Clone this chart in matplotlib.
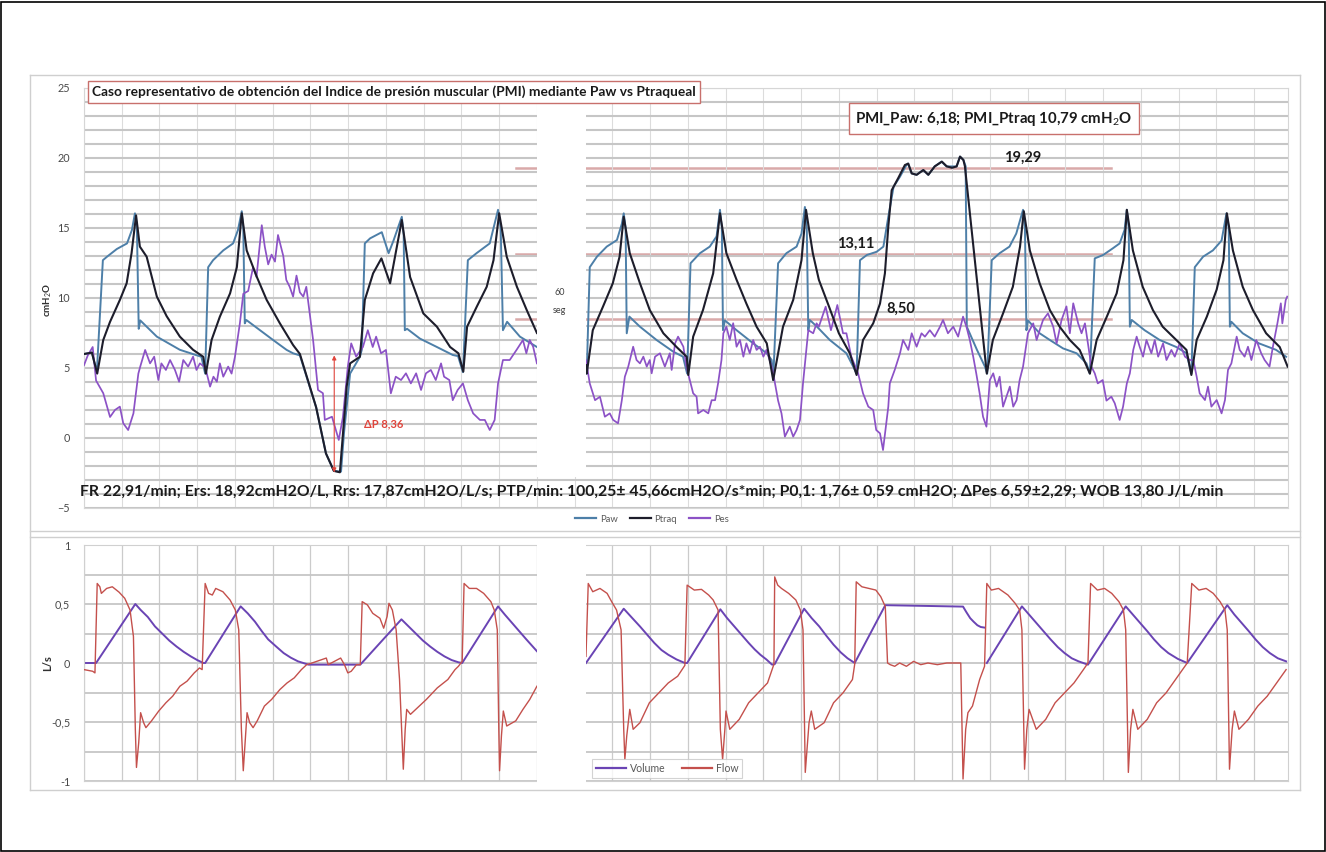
import numpy as np
import matplotlib.pyplot as plt
from matplotlib.patches import Rectangle
from matplotlib.lines import Line2D

plt.rcParams['font.family'] = ['Lato', 'DejaVu Sans']
plt.rcParams['mathtext.fontset'] = 'custom'
plt.rcParams['mathtext.rm'] = 'Lato'
plt.rcParams['mathtext.it'] = 'Lato:italic'
plt.rcParams['mathtext.bf'] = 'Lato:bold'

# ---------------------------------------------------------------------------
# Signals (time in s, pressures in cmH2O, flow in L/s, volume in L)
# Each recording is split in two segments separated by a 60 s gap.
# ---------------------------------------------------------------------------
paw_left = [
    (0.00, 6.0), (0.21, 6.1), (0.34, 4.7), (0.50, 12.7), (0.61, 12.95), (0.87, 13.5),
    (1.14, 13.9), (1.27, 14.86), (1.35, 16.05), (1.40, 15.2), (1.45, 7.8), (1.49, 8.4),
    (1.93, 7.24), (2.54, 6.3), (3.11, 5.8), (3.21, 4.6),
    (3.29, 12.2), (3.42, 12.7), (3.69, 13.4), (3.95, 13.9), (4.08, 14.86), (4.18, 16.2),
    (4.22, 15.0), (4.26, 8.19), (4.30, 8.43), (4.66, 7.7), (5.01, 7.0), (5.37, 6.29),
    (5.54, 6.05), (5.72, 5.9),
    (6.15, 2.2), (6.41, -1.1), (6.62, -2.35), (6.81, -2.4), (6.89, 0.4), (7.05, 4.6),
    (7.31, 5.8), (7.36, 6.3),
    (7.44, 13.9), (7.58, 14.26), (7.89, 14.7), (8.07, 13.2), (8.20, 14.1), (8.42, 15.8),
    (8.47, 14.5), (8.50, 7.7), (8.56, 7.8), (8.90, 7.1), (9.35, 6.5), (9.77, 5.93),
    (9.91, 5.85), (10.04, 4.7),
    (10.17, 12.7), (10.40, 13.2), (10.75, 13.9), (10.97, 16.3), (11.04, 15.0), (11.10, 7.7),
    (11.21, 8.3), (11.55, 7.24), (12.00, 6.5),
]
paw_right = [
    (13.30, 5.5), (13.32, 4.6), (13.40, 12.2), (13.59, 12.95), (13.85, 13.67), (14.12, 14.14),
    (14.25, 15.3), (14.30, 16.05), (14.35, 15.0), (14.38, 7.48), (14.45, 8.67), (14.73, 7.95),
    (15.17, 7.0), (15.61, 6.17), (15.87, 5.81), (15.98, 4.6),
    (16.07, 12.48), (16.32, 13.2), (16.58, 13.67), (16.76, 14.4), (16.85, 16.3), (16.90, 15.0),
    (16.93, 7.7), (16.98, 8.4), (17.29, 7.7), (17.73, 6.76), (18.09, 6.05), (18.22, 5.57),
    (18.26, 4.14),
    (18.39, 12.48), (18.61, 13.2), (18.88, 13.67), (19.01, 14.6), (19.10, 16.5), (19.15, 15.0),
    (19.19, 7.7), (19.23, 8.43), (19.42, 7.95), (19.76, 7.0), (20.20, 6.05), (20.38, 5.1),
    (20.47, 4.6),
    (20.56, 12.7), (20.74, 13.07), (21.00, 13.3), (21.18, 13.67), (21.31, 15.8), (21.45, 17.95),
    (21.62, 18.67), (21.79, 19.5), (21.83, 19.6), (21.93, 18.9), (22.06, 18.8), (22.23, 19.14),
    (22.37, 18.8), (22.54, 19.4), (22.72, 19.74), (22.85, 19.4), (23.12, 19.4), (23.21, 20.1),
    (23.30, 19.86), (23.36, 19.4), (23.39, 7.95), (23.66, 6.29), (23.87, 5.1), (23.93, 4.6),
    (24.05, 12.7), (24.26, 13.2), (24.52, 13.67), (24.70, 14.6), (24.88, 16.3), (24.93, 15.0),
    (24.97, 7.7), (25.01, 8.4), (25.32, 7.48), (25.59, 7.0), (25.94, 6.4), (26.30, 6.05),
    (26.56, 5.33), (26.65, 4.6),
    (26.78, 12.83), (27.00, 13.07), (27.26, 13.55), (27.44, 13.9), (27.57, 14.86), (27.63, 16.3),
    (27.68, 15.0), (27.71, 7.95), (27.76, 8.43), (28.10, 7.7), (28.50, 7.0), (28.94, 6.5),
    (29.21, 6.05), (29.34, 4.6),
    (29.43, 12.2), (29.65, 12.95), (29.91, 13.4), (30.14, 14.1), (30.27, 16.05), (30.33, 15.0),
    (30.36, 7.95), (30.40, 8.3), (30.70, 7.48), (31.13, 6.76), (31.58, 6.3), (31.85, 5.8),
]

ptraq_left = [
    (0.00, 6.0), (0.21, 6.1), (0.35, 4.6), (0.51, 7.0), (0.69, 8.3), (0.95, 9.86),
    (1.13, 11.05), (1.26, 13.2), (1.38, 15.9), (1.48, 13.67), (1.66, 12.95), (1.93, 10.1),
    (2.19, 8.7), (2.54, 7.24), (2.89, 6.3), (3.16, 5.8), (3.23, 4.6),
    (3.38, 7.0), (3.60, 8.67), (3.87, 10.33), (4.05, 12.2), (4.18, 16.05), (4.31, 13.4),
    (4.58, 11.5), (4.84, 9.86), (5.19, 8.19), (5.54, 6.64), (5.72, 6.0),
    (6.15, 2.2), (6.41, -1.1), (6.62, -2.35), (6.78, -2.45), (6.96, 3.67), (7.05, 5.33),
    (7.31, 5.8),
    (7.44, 9.86), (7.66, 11.76), (7.88, 12.83), (8.11, 11.05), (8.24, 12.95), (8.42, 15.57),
    (8.64, 11.5), (8.99, 8.9), (9.35, 7.95), (9.70, 6.5), (9.92, 6.05), (10.05, 4.74),
    (10.15, 7.95), (10.41, 9.4), (10.67, 10.8), (10.85, 12.7), (11.00, 16.05), (11.20, 12.95),
    (11.47, 10.8), (11.73, 9.14), (12.00, 7.5),
]
ptraq_right = [
    (13.30, 5.2), (13.32, 4.6), (13.48, 7.7), (13.75, 9.38), (14.01, 11.05), (14.19, 12.95),
    (14.30, 15.8), (14.46, 13.2), (14.73, 11.05), (14.99, 9.14), (15.35, 7.48), (15.70, 6.5),
    (15.97, 5.8), (16.01, 4.5),
    (16.14, 7.24), (16.40, 9.14), (16.67, 11.76), (16.85, 16.05), (17.02, 13.2), (17.29, 11.3),
    (17.55, 9.6), (17.82, 7.95), (18.09, 6.76), (18.26, 4.14),
    (18.52, 7.95), (18.79, 9.86), (19.01, 12.7), (19.13, 16.3), (19.31, 13.2), (19.47, 11.3),
    (19.74, 9.38), (20.00, 7.48), (20.29, 6.05), (20.47, 4.5),
    (20.64, 7.0), (20.91, 8.19), (21.09, 9.6), (21.22, 11.76), (21.31, 15.1), (21.40, 17.7),
    (21.57, 18.55), (21.75, 19.5), (21.84, 19.6), (21.93, 18.9), (22.06, 18.8), (22.24, 19.14),
    (22.37, 18.8), (22.54, 19.4), (22.73, 19.74), (22.86, 19.4), (23.00, 19.3), (23.12, 19.4),
    (23.21, 20.1), (23.30, 19.86), (23.34, 19.4), (23.92, 4.6),
    (24.08, 7.0), (24.35, 8.9), (24.61, 10.8), (24.80, 13.67), (24.90, 16.2), (25.06, 13.4),
    (25.32, 11.05), (25.59, 9.14), (25.85, 7.95), (26.12, 7.0), (26.38, 6.29), (26.65, 4.6),
    (26.83, 7.0), (27.10, 8.67), (27.36, 10.33), (27.54, 12.7), (27.63, 16.3), (27.79, 13.4),
    (28.05, 10.8), (28.32, 9.14), (28.58, 7.95), (28.94, 7.0), (29.21, 6.29), (29.34, 4.5),
    (29.48, 7.0), (29.75, 8.67), (30.01, 10.6), (30.19, 12.7), (30.28, 16.05), (30.44, 13.4),
    (30.70, 10.8), (30.97, 9.14), (31.32, 7.48), (31.68, 6.5), (31.89, 5.1),
]

pes_left = [
    (0.00, 5.2), (0.10, 5.9), (0.23, 6.5), (0.32, 4.1), (0.51, 3.2), (0.69, 1.5), (0.82, 2.0),
    (0.95, 2.24), (1.04, 1.05), (1.17, 0.57), (1.31, 1.76), (1.44, 4.6), (1.49, 5.1),
    (1.62, 6.29), (1.75, 5.33), (1.86, 5.81), (1.97, 4.14), (2.05, 5.33), (2.17, 4.86),
    (2.28, 5.57), (2.41, 4.86), (2.52, 4.02), (2.63, 5.57), (2.76, 5.1), (2.89, 5.81),
    (2.98, 4.86), (3.07, 5.33), (3.18, 5.1), (3.23, 4.86), (3.34, 3.67), (3.43, 4.38),
    (3.52, 4.02), (3.60, 5.33), (3.69, 4.38), (3.82, 5.1), (3.91, 4.6), (4.00, 5.81),
    (4.13, 8.19), (4.22, 10.3), (4.35, 10.5), (4.48, 12.2), (4.57, 11.5), (4.71, 15.2),
    (4.79, 13.67), (4.88, 12.4), (4.97, 13.1), (5.06, 12.6), (5.14, 14.5), (5.28, 13.0),
    (5.36, 11.29), (5.45, 10.8), (5.54, 10.1), (5.63, 11.6), (5.72, 10.4), (5.81, 10.1),
    (5.89, 10.8), (5.99, 8.67), (6.07, 7.0), (6.20, 3.43), (6.33, 3.2), (6.38, 1.29),
    (6.57, 1.52), (6.75, -0.14), (6.86, 1.5), (6.99, 5.1), (7.08, 6.76), (7.21, 5.81),
    (7.39, 6.5), (7.52, 7.7), (7.65, 6.5), (7.74, 7.24), (7.87, 6.05), (8.00, 6.29),
    (8.13, 3.19), (8.26, 4.38), (8.40, 4.14), (8.53, 4.62), (8.66, 3.9), (8.80, 4.62),
    (8.93, 3.43), (9.06, 4.62), (9.19, 4.86), (9.32, 4.14), (9.46, 5.33), (9.54, 4.38),
    (9.68, 4.14), (9.77, 2.7), (9.90, 3.43), (10.04, 3.9), (10.17, 2.7), (10.31, 1.76),
    (10.49, 1.29), (10.62, 1.29), (10.75, 0.57), (10.88, 1.29), (10.97, 3.9), (11.10, 5.57),
    (11.28, 5.57), (11.46, 6.29), (11.63, 7.0), (11.72, 6.05), (11.81, 7.0), (11.90, 6.52),
    (12.00, 5.33),
]
pes_right = [
    (13.30, 5.57), (13.40, 3.9), (13.54, 2.7), (13.67, 2.95), (13.80, 1.52), (13.93, 1.76),
    (14.02, 1.29), (14.15, 1.05), (14.25, 2.7), (14.33, 4.38), (14.42, 5.1), (14.55, 6.52),
    (14.64, 5.57), (14.73, 5.33), (14.82, 5.81), (14.91, 5.1), (14.99, 5.57), (15.04, 4.62),
    (15.13, 5.81), (15.26, 6.05), (15.39, 5.1), (15.52, 6.05), (15.57, 4.86), (15.66, 6.76),
    (15.74, 7.24), (15.88, 6.52), (15.96, 5.1),
    (16.05, 4.14), (16.14, 3.19), (16.23, 2.95), (16.27, 1.76), (16.41, 2.0), (16.54, 1.76),
    (16.63, 2.7), (16.72, 2.7), (16.80, 3.9), (16.89, 5.57), (16.94, 7.48), (17.02, 7.95),
    (17.11, 7.0), (17.20, 8.2), (17.29, 6.52), (17.38, 7.0), (17.47, 5.81), (17.55, 6.76),
    (17.64, 6.05), (17.73, 7.0), (17.82, 6.29), (17.91, 6.52), (18.00, 5.81), (18.08, 6.29),
    (18.22, 5.1),
    (18.26, 4.62), (18.39, 2.67), (18.48, 1.76), (18.57, 0.1), (18.70, 0.81), (18.79, 0.1),
    (18.88, 0.57), (18.97, 1.29), (19.05, 3.9), (19.19, 7.7), (19.32, 7.48), (19.41, 8.19),
    (19.47, 7.95), (19.65, 9.38), (19.79, 7.7), (19.96, 9.5), (20.11, 7.48), (20.20, 7.48),
    (20.33, 5.81), (20.51, 4.62), (20.64, 3.19), (20.78, 2.24), (20.91, 2.0), (20.99, 0.57),
    (21.09, 0.33), (21.17, -0.86), (21.31, 2.24), (21.35, 3.9), (21.48, 4.86), (21.62, 6.05),
    (21.70, 7.0), (21.84, 6.29), (21.93, 7.48), (22.06, 6.52), (22.19, 7.48), (22.28, 7.24),
    (22.41, 7.7), (22.54, 7.24), (22.68, 7.95), (22.76, 8.43), (22.89, 7.48), (23.03, 7.95),
    (23.16, 7.24), (23.29, 8.67), (23.38, 7.95), (23.47, 7.0), (23.56, 5.81), (23.64, 4.62),
    (23.73, 3.19), (23.82, 1.52), (23.91, 0.81), (24.00, 4.14), (24.09, 4.62), (24.18, 3.67),
    (24.26, 4.38), (24.35, 2.24), (24.44, 2.95), (24.53, 3.67), (24.62, 2.24), (24.71, 2.71),
    (24.79, 4.14), (24.88, 5.1), (25.01, 7.48), (25.15, 8.19), (25.24, 7.0), (25.32, 7.7),
    (25.41, 8.43), (25.54, 8.9), (25.68, 7.95), (25.77, 6.76), (25.90, 8.43), (26.03, 9.4),
    (26.12, 7.48), (26.21, 9.62), (26.34, 8.19), (26.43, 7.48), (26.52, 8.19), (26.60, 6.76),
    (26.69, 5.1), (26.78, 4.62), (26.86, 3.9), (26.99, 4.14), (27.09, 2.67), (27.22, 2.95),
    (27.31, 2.48), (27.44, 1.29), (27.53, 2.24), (27.63, 3.9), (27.71, 4.62), (27.80, 6.29),
    (27.89, 7.24), (27.97, 6.52), (28.06, 5.81), (28.15, 7.0), (28.28, 6.05), (28.37, 7.0),
    (28.46, 5.81), (28.59, 6.76), (28.68, 5.57), (28.81, 6.29), (28.90, 5.81), (29.03, 6.76),
    (29.17, 5.81), (29.30, 5.57),
    (29.39, 5.57), (29.48, 4.38), (29.56, 3.19), (29.70, 2.71), (29.78, 3.67), (29.87, 2.24),
    (30.01, 2.71), (30.14, 1.76), (30.23, 2.71), (30.31, 4.86), (30.40, 5.33), (30.54, 7.24),
    (30.62, 6.29), (30.75, 5.81), (30.84, 6.52), (30.93, 5.57), (31.06, 7.0), (31.19, 6.05),
    (31.28, 5.57), (31.41, 5.1), (31.50, 6.52), (31.62, 8.2), (31.71, 9.62), (31.75, 8.19),
    (31.84, 9.86), (31.88, 10.1),
]

flow_left = [
    (0.00, -0.056), (0.23, -0.07), (0.29, -0.084), (0.35, 0.674), (0.42, 0.646), (0.46, 0.59),
    (0.60, 0.632), (0.75, 0.646), (0.93, 0.60), (1.08, 0.548), (1.22, 0.449), (1.31, 0.225),
    (1.36, -0.562), (1.39, -0.885), (1.45, -0.674), (1.50, -0.421), (1.58, -0.506),
    (1.64, -0.548), (1.79, -0.49), (1.98, -0.407), (2.17, -0.337), (2.35, -0.281),
    (2.54, -0.197), (2.73, -0.154), (2.92, -0.084), (3.06, -0.042), (3.13, -0.056),
    (3.21, 0.674), (3.30, 0.59), (3.40, 0.576), (3.49, 0.632), (3.68, 0.604), (3.87, 0.534),
    (4.01, 0.449), (4.10, 0.281), (4.17, -0.562), (4.22, -0.913), (4.28, -0.618),
    (4.32, -0.421), (4.39, -0.506), (4.48, -0.548), (4.59, -0.49), (4.78, -0.365),
    (4.97, -0.309), (5.19, -0.225), (5.38, -0.169), (5.57, -0.126), (5.76, -0.056),
    (5.90, -0.014), (6.04, 0.0), (6.42, 0.042), (6.47, -0.014), (6.80, 0.042), (6.90, -0.014),
    (6.99, -0.084), (7.08, -0.07), (7.22, -0.014), (7.32, -0.014),
    (7.37, 0.52), (7.51, 0.492), (7.65, 0.421), (7.84, 0.379), (7.94, 0.295), (8.03, 0.393),
    (8.08, 0.506), (8.17, 0.449), (8.27, 0.281), (8.36, -0.14), (8.46, -0.90), (8.51, -0.562),
    (8.55, -0.393), (8.65, -0.435), (8.79, -0.393), (9.07, -0.309), (9.36, -0.211),
    (9.64, -0.14), (9.83, -0.056), (9.92, -0.028), (10.02, 0.014),
    (10.07, 0.674), (10.21, 0.632), (10.40, 0.632), (10.59, 0.59), (10.78, 0.52),
    (10.87, 0.449), (10.95, 0.281), (10.99, -0.562), (11.01, -0.913), (11.06, -0.618),
    (11.11, -0.407), (11.20, -0.534), (11.44, -0.49), (11.63, -0.393), (11.81, -0.309),
    (12.00, -0.197),
]
flow_right = [
    (13.30, 0.056), (13.36, 0.674), (13.48, 0.604), (13.67, 0.632), (13.86, 0.59), (13.98, 0.52),
    (14.11, 0.449), (14.23, 0.281), (14.30, -0.562), (14.33, -0.817), (14.38, -0.618),
    (14.46, -0.393), (14.55, -0.562), (14.73, -0.506), (14.98, -0.337), (15.23, -0.253),
    (15.48, -0.169), (15.73, -0.112), (15.92, -0.02),
    (15.98, 0.66), (16.17, 0.618), (16.36, 0.624), (16.55, 0.576), (16.67, 0.534),
    (16.80, 0.449), (16.86, -0.562), (16.92, -0.817), (16.98, -0.562), (17.01, -0.407),
    (17.11, -0.562), (17.36, -0.478), (17.61, -0.337), (17.86, -0.253), (18.11, -0.169),
    (18.23, -0.056), (18.28, -0.01),
    (18.30, 0.73), (18.38, 0.66), (18.48, 0.632), (18.67, 0.59), (18.86, 0.534), (18.98, 0.449),
    (19.05, 0.281), (19.11, -0.927), (19.21, -0.506), (19.27, -0.407), (19.36, -0.562),
    (19.61, -0.506), (19.86, -0.337), (20.11, -0.253), (20.36, -0.14), (20.42, -0.01),
    (20.46, 0.688), (20.61, 0.646), (20.79, 0.632), (20.98, 0.618), (21.11, 0.562),
    (21.23, 0.478), (21.29, 0.0), (21.36, -0.014), (21.48, -0.028), (21.61, 0.0),
    (21.79, -0.028), (21.98, 0.014), (22.17, -0.014), (22.36, 0.0), (22.61, -0.014),
    (22.86, 0.0), (23.23, 0.0), (23.29, -0.983), (23.36, -0.562), (23.42, -0.421),
    (23.54, -0.365), (23.61, -0.281), (23.73, -0.14), (23.86, -0.028),
    (23.92, 0.674), (24.04, 0.618), (24.23, 0.632), (24.48, 0.576), (24.67, 0.506),
    (24.79, 0.449), (24.85, 0.281), (24.92, -0.90), (24.98, -0.562), (25.04, -0.393),
    (25.23, -0.562), (25.48, -0.478), (25.73, -0.337), (25.98, -0.253), (26.23, -0.169),
    (26.48, -0.056), (26.60, 0.0),
    (26.67, 0.674), (26.85, 0.618), (27.04, 0.632), (27.23, 0.59), (27.42, 0.52),
    (27.54, 0.449), (27.60, 0.281), (27.67, -0.927), (27.73, -0.562), (27.79, -0.393),
    (27.92, -0.562), (28.17, -0.478), (28.42, -0.337), (28.67, -0.253), (28.92, -0.14),
    (29.23, 0.0),
    (29.35, 0.674), (29.54, 0.618), (29.73, 0.632), (29.92, 0.59), (30.10, 0.52),
    (30.23, 0.449), (30.29, 0.281), (30.35, -0.90), (30.42, -0.562), (30.48, -0.407),
    (30.60, -0.562), (30.85, -0.478), (31.10, -0.365), (31.35, -0.281), (31.60, -0.169),
    (31.85, -0.056),
]

volume_left = [
    (0.00, 0.0), (0.32, 0.0), (1.36, 0.50), (1.50, 0.45), (1.69, 0.39), (1.88, 0.31),
    (2.07, 0.25), (2.26, 0.19), (2.45, 0.14), (2.64, 0.095), (2.83, 0.056), (3.00, 0.025),
    (3.16, 0.0), (3.21, 0.0),
    (4.15, 0.48), (4.34, 0.42), (4.53, 0.35), (4.71, 0.27), (4.88, 0.20), (5.09, 0.14),
    (5.29, 0.084), (5.48, 0.045), (5.67, 0.014), (5.95, -0.014), (7.32, -0.014),
    (8.41, 0.37), (8.60, 0.31), (8.79, 0.25), (8.98, 0.19), (9.17, 0.14), (9.36, 0.095),
    (9.55, 0.056), (9.74, 0.025), (9.92, 0.006), (10.02, 0.0),
    (10.97, 0.48), (11.15, 0.41), (11.34, 0.34), (11.53, 0.27), (11.72, 0.20), (11.86, 0.15),
    (12.00, 0.10),
]
volume_right = [
    (13.30, 0.0), (14.30, 0.46), (14.50, 0.39), (14.73, 0.31), (14.92, 0.24), (15.11, 0.17),
    (15.30, 0.11), (15.48, 0.07), (15.70, 0.03), (15.92, 0.0), (15.98, 0.0),
    (16.86, 0.455), (17.04, 0.38), (17.23, 0.31), (17.42, 0.24), (17.61, 0.17), (17.77, 0.115),
    (17.92, 0.07), (18.08, 0.03), (18.23, -0.014), (18.30, -0.01),
    (19.08, 0.46), (19.28, 0.38), (19.48, 0.31), (19.67, 0.23), (19.86, 0.155), (20.05, 0.09),
    (20.23, 0.04), (20.42, 0.0),
    (21.23, 0.49), (23.29, 0.478), (23.38, 0.43), (23.48, 0.38), (23.57, 0.35), (23.67, 0.32),
    (23.76, 0.305), (23.86, 0.30), None,
    (23.92, 0.0), (24.85, 0.48), (25.04, 0.41), (25.23, 0.34), (25.42, 0.27), (25.61, 0.20),
    (25.80, 0.135), (25.98, 0.084), (26.17, 0.04), (26.35, 0.014), (26.60, -0.014),
    (27.60, 0.48), (27.79, 0.41), (27.98, 0.34), (28.17, 0.27), (28.35, 0.20), (28.54, 0.135),
    (28.73, 0.084), (28.98, 0.035), (29.23, 0.0),
    (30.29, 0.49), (30.48, 0.41), (30.67, 0.34), (30.86, 0.27), (31.04, 0.20), (31.23, 0.135),
    (31.42, 0.084), (31.63, 0.04), (31.85, 0.014),
]

# Reference pressure levels and the inspiratory effort marker
ref_levels = [19.29, 13.11, 8.50]
ref_labels = ['19,29', '13,11', '8,50']
ref_label_t = [24.37, 19.95, 21.25]
ref_span = (11.44, 27.2)
dp_time = 6.63
dp_value = 8.36
dp_bottom = -2.46

T_GAP = (12.0, 13.3)
T_MAX = 31.9

COL_PAW = '#4d7fa8'
COL_PTRAQ = '#1d1d2b'
COL_PES = '#8c52c6'
COL_VOL = '#6a44b4'
COL_FLOW = '#c4504c'
COL_REF = '#d9a9a9'
COL_GRID = '#c6c6c6'
COL_TICK = '#4a4a4a'


def series(left, right):
    pts = list(left) + [None] + list(right)
    t = np.array([np.nan if p is None else p[0] for p in pts])
    v = np.array([np.nan if p is None else p[1] for p in pts])
    return t, v


W, H = 1326, 852
fig = plt.figure(figsize=(W / 100, H / 100), dpi=100)
fig.patch.set_facecolor('white')


def fx(px):
    return px / W


def fy(py):
    return 1 - py / H


# Outer frame and chart-area borders
fig.add_artist(Rectangle((0.001, 0.001), 0.998, 0.997, transform=fig.transFigure,
                         fill=False, edgecolor='black', lw=1.2))
for (x0, y0, x1, y1) in [(30, 75, 1300, 75), (30, 75, 30, 790), (1300, 75, 1300, 790),
                         (30, 790, 1300, 790), (30, 531, 1300, 531), (30, 537, 1300, 537)]:
    fig.add_artist(Line2D([fx(x0), fx(x1)], [fy(y0), fy(y1)], transform=fig.transFigure,
                          color='#cfcfcf', lw=1.0))

# ---------------------------- pressure panel -------------------------------
ax1 = fig.add_axes([fx(84), fy(508), fx(1204), 420 / H])
ax1.set_xlim(0, T_MAX)
ax1.set_ylim(-5, 25)
ax1.set_yticks(np.arange(-5, 26, 5))
ax1.set_yticks(np.arange(-5, 26, 1), minor=True)
ax1.set_xticks(np.arange(0, 32, 1))
ax1.set_xticklabels([])
ax1.grid(axis='y', which='both', color=COL_GRID, lw=1.5, zorder=0)
ax1.grid(axis='x', which='major', color='#dcdcdc', lw=0.8, zorder=0)
ax1.tick_params(axis='both', which='both', length=0)
ax1.tick_params(axis='y', labelsize=7.8, labelcolor=COL_TICK, pad=10)
for s in ax1.spines.values():
    s.set_color('#d6d6d6')
    s.set_linewidth(0.8)
ax1.set_facecolor('none')

for lvl in ref_levels:
    ax1.plot(ref_span, [lvl, lvl], color=COL_REF, lw=1.8, zorder=1)

t, v = series(paw_left, paw_right)
ax1.plot(t, v, color=COL_PAW, lw=1.4, zorder=2)
t, v = series(pes_left, pes_right)
ax1.plot(t, v, color=COL_PES, lw=1.25, zorder=3)
t, v = series(ptraq_left, ptraq_right)
ax1.plot(t, v, color=COL_PTRAQ, lw=1.5, zorder=4)

ax1.add_patch(Rectangle((T_GAP[0], -2.8), T_GAP[1] - T_GAP[0], 30, facecolor='white',
                        edgecolor='none', zorder=5, clip_on=False))

for lvl, lab, tx in zip(ref_levels, ref_labels, ref_label_t):
    ax1.text(tx, lvl + 0.75, lab, fontsize=10.5, fontweight='bold', color='#1a1a1a',
             va='center', ha='left', zorder=6)

ax1.annotate('', xy=(dp_time, dp_bottom), xytext=(dp_time, dp_bottom + dp_value),
             arrowprops=dict(arrowstyle='<|-|>', color='#e0453c', lw=0.8,
                             mutation_scale=6, shrinkA=0, shrinkB=0), zorder=6)
ax1.text(7.42, 1.0, '\u0394P 8,36', color='#e0453c', fontsize=8, fontweight='bold',
         va='center', ha='left', zorder=6)

gap_mid = 0.5 * (T_GAP[0] + T_GAP[1]) - 0.05
ax1.text(gap_mid, 10.4, '60', fontsize=6.5, color='#404040', ha='center', va='center', zorder=6)
ax1.text(gap_mid, 9.1, 'seg', fontsize=6.5, color='#404040', ha='center', va='center', zorder=6)

fig.text(fx(48), fy(300), 'cmH$_2$O', rotation=90, fontsize=7, fontweight='bold',
         color='#303030', ha='center', va='center')

fig.text(fx(394), fy(92),
         'Caso representativo de obtenci\u00f3n del Indice de presi\u00f3n muscular (PMI) '
         'mediante Paw vs Ptraqueal',
         fontsize=9.9, fontweight='bold', color='#1a1a1a', ha='center', va='center',
         bbox=dict(boxstyle='square,pad=0.32', facecolor='white', edgecolor='#c8706c', lw=1.0))
fig.text(fx(994), fy(118.5), 'PMI_Paw: 6,18; PMI_Ptraq 10,79 cmH$_2$O',
         fontsize=10.8, fontweight='bold', color='#1a1a1a', ha='center', va='center',
         bbox=dict(boxstyle='square,pad=0.45', facecolor='white', edgecolor='#c8706c', lw=1.0))
fig.text(fx(80), fy(492),
         'FR 22,91/min; Ers: 18,92cmH2O/L, Rrs: 17,87cmH2O/L/s; PTP/min: 100,25\u00b1 '
         '45,66cmH2O/s*min; P0,1: 1,76\u00b1 0,59 cmH2O; \u0394Pes 6,59\u00b12,29; WOB 13,80 J/L/min',
         fontsize=11.3, fontweight='bold', color='#1a1a1a', ha='left', va='center')

leg_handles = [Line2D([], [], color=COL_PAW, lw=1.6), Line2D([], [], color=COL_PTRAQ, lw=1.6),
               Line2D([], [], color=COL_PES, lw=1.6)]
fig.legend(leg_handles, ['Paw', 'Ptraq', 'Pes'], loc='center', bbox_to_anchor=(fx(652), fy(519)),
           ncol=3, frameon=False, fontsize=6.8, handlelength=2.2, columnspacing=1.3,
           handletextpad=0.4, labelcolor='#595959')

# ------------------------------ flow panel ---------------------------------
ax2 = fig.add_axes([fx(84), fy(781), fx(1204), 236 / H])
ax2.set_xlim(0, T_MAX)
ax2.set_ylim(-1, 1)
ax2.set_yticks([-1, -0.5, 0, 0.5, 1])
ax2.set_yticklabels(['-1', '-0,5', '0', '0,5', '1'])
ax2.set_yticks(np.arange(-1, 1.01, 0.25), minor=True)
ax2.set_xticks(np.arange(0, 32, 1))
ax2.set_xticklabels([])
ax2.grid(axis='y', which='both', color=COL_GRID, lw=1.3, zorder=0)
ax2.grid(axis='x', which='major', color='#cbcbcb', lw=0.9, zorder=0)
ax2.tick_params(axis='both', which='both', length=0)
ax2.tick_params(axis='y', labelsize=7.8, labelcolor=COL_TICK, pad=10)
for s in ax2.spines.values():
    s.set_color('#d0d0d0')
    s.set_linewidth(0.8)
ax2.set_facecolor('none')

t, v = series(volume_left, volume_right)
ax2.plot(t, v, color=COL_VOL, lw=1.4, zorder=2)
t, v = series(flow_left, flow_right)
ax2.plot(t, v, color=COL_FLOW, lw=1.0, zorder=3)

ax2.add_patch(Rectangle((T_GAP[0], -1.1), T_GAP[1] - T_GAP[0], 2.2, facecolor='white',
                        edgecolor='none', zorder=5, clip_on=False))

fig.text(fx(48), fy(663), 'L/s', rotation=90, fontsize=8, fontweight='bold',
         color='#303030', ha='center', va='center')

vol_handles = [Line2D([], [], color=COL_VOL, lw=1.6), Line2D([], [], color=COL_FLOW, lw=1.6)]
leg2 = fig.legend(vol_handles, ['Volume', 'Flow'], loc='lower left',
                  bbox_to_anchor=(fx(587), fy(783)), ncol=2, frameon=True, fontsize=7.6,
                  handlelength=2.8, columnspacing=1.6, handletextpad=0.4, labelcolor='#595959',
                  fancybox=False, borderpad=0.35)
leg2.get_frame().set_edgecolor('#c8c8c8')
leg2.get_frame().set_linewidth(0.8)
leg2.set_zorder(10)

fig.savefig('out.png', dpi=100)
